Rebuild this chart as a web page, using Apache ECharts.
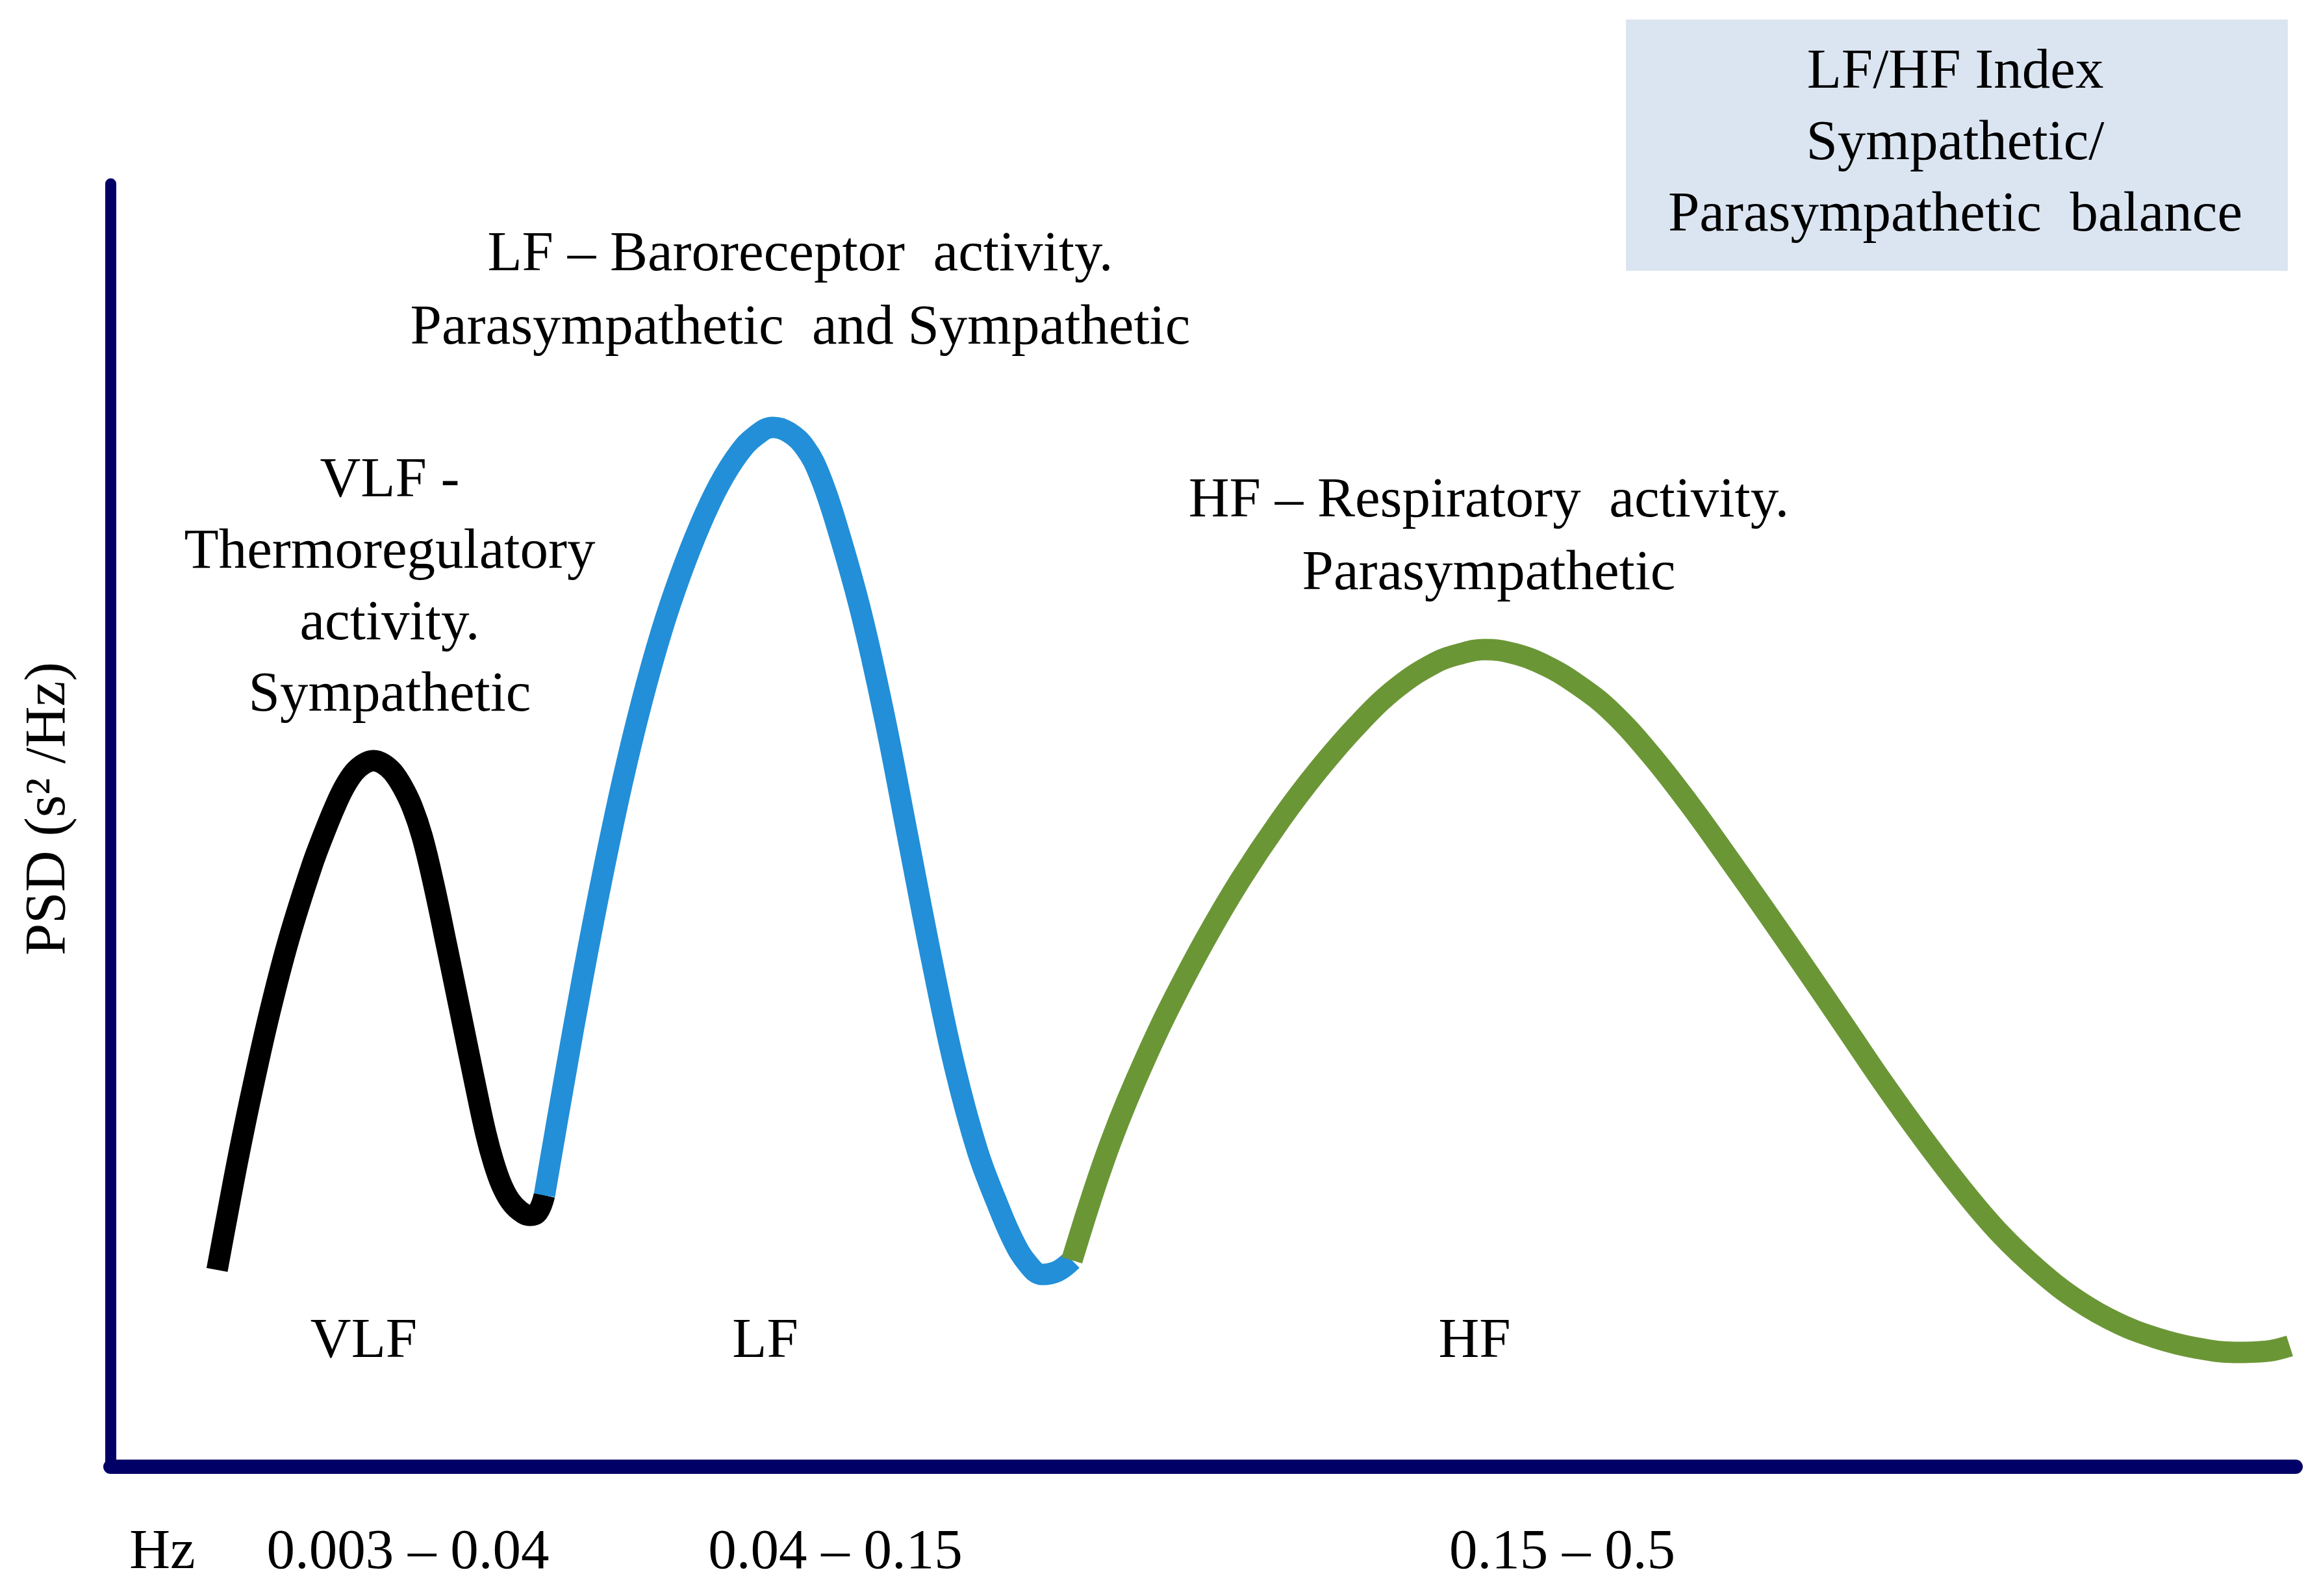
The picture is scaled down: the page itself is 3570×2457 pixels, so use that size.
<!DOCTYPE html>
<html><head><meta charset="utf-8">
<script src="https://cdn.jsdelivr.net/npm/echarts@6/dist/echarts.min.js"></script>
<style>html,body{margin:0;padding:0;background:#fff}#c{width:3570px;height:2457px}</style>
</head><body><div id="c"></div>
<script>
// Curve values (x: relative frequency position 0-100, y: relative PSD 0-100)
const vlfCurve = [[4.88,15.34],[5.35,19.65],[5.89,24.46],[6.54,29.77],[7.28,35.34],[8.17,41.16],[9.22,46.84],[9.81,49.52],[10.26,51.39],[10.70,52.96],[11.15,54.13],[11.59,54.78],[12.04,55.04],[12.49,54.78],[12.93,54.13],[13.38,52.96],[13.82,51.39],[14.27,49.11],[14.80,45.37],[15.40,40.51],[16.02,35.39],[16.71,29.67],[17.18,25.97],[17.54,23.70],[17.90,21.97],[18.28,20.76],[18.73,19.95],[19.20,19.59],[19.56,19.85],[19.86,21.16]];
const lfCurve = [[19.86,21.16],[20.75,29.92],[21.64,38.38],[22.53,46.18],[23.42,53.32],[24.32,59.65],[25.21,65.06],[26.10,69.57],[26.99,73.42],[27.88,76.61],[28.78,79.04],[29.52,80.35],[30.32,81.01],[31.06,80.61],[31.81,79.39],[32.46,77.27],[33.23,73.42],[34.33,66.73],[35.43,58.38],[36.50,49.01],[37.60,39.39],[38.64,31.14],[39.68,24.61],[40.55,20.66],[41.32,17.62],[41.97,15.85],[42.63,14.99],[43.34,15.24],[44.00,16.10]];
const hfCurve = [[44.00,16.10],[44.59,19.34],[45.18,22.43],[45.78,25.32],[46.52,28.51],[47.41,32.00],[48.45,35.75],[50.06,40.96],[51.72,45.77],[53.51,50.33],[55.29,54.33],[57.07,57.82],[58.86,60.71],[60.64,62.68],[61.83,63.39],[62.87,63.70],[64.21,63.39],[65.70,62.43],[67.18,60.91],[68.67,58.89],[70.45,55.59],[72.24,51.70],[74.02,47.49],[75.80,43.19],[77.59,38.78],[79.37,34.33],[81.15,29.87],[82.94,25.62],[84.72,21.67],[86.50,18.13],[88.29,15.24],[90.07,12.91],[91.86,11.19],[93.64,10.03],[95.42,9.27],[97.21,8.91],[98.69,9.01],[99.73,9.42]];

const bandLabels = ['VLF', 'LF', 'HF'];
const hzLabels = ['Hz', '0.003 \u2013 0.04', '0.04 \u2013 0.15', '0.15 \u2013 0.5'];
const vlfNote = ['VLF -', 'Thermoregulatory', 'activity.', 'Sympathetic'];
const lfNote = ['LF \u2013 Baroreceptor  activity.', 'Parasympathetic  and Sympathetic'];
const hfNote = ['HF \u2013 Respiratory  activity.', 'Parasympathetic'];
const indexNote = ['LF/HF Index', 'Sympathetic/', 'Parasympathetic  balance'];
const yName = 'PSD (s\u00B2 /Hz)';

const FONT = '"Liberation Serif","Times New Roman",serif';
const FS = 87;

function txt(text, x, y, opts) {
  return {
    type: 'text', x: x, y: y, silent: true, z: 10,
    style: Object.assign({
      text: text, fontFamily: FONT, fontSize: FS, fill: '#000',
      align: 'center', verticalAlign: 'middle', textAlign: 'center', textVerticalAlign: 'middle',
      lineHeight: 110
    }, opts || {})
  };
}

const chart = echarts.init(document.getElementById('c'), null, {renderer: 'canvas'});
const lineCommon = {type: 'line', smooth: 0.4, showSymbol: false, symbol: 'none', silent: true};
const LW = 33;

chart.setOption({
  animation: false,
  backgroundColor: '#ffffff',
  grid: {left: 170, top: 283, right: 36, bottom: 199, containLabel: false},
  xAxis: {
    type: 'value', min: 0, max: 100,
    axisLine: {show: true, onZero: false, lineStyle: {color: '#000066', width: 22}},
    axisTick: {show: false}, axisLabel: {show: false}, splitLine: {show: false}
  },
  yAxis: {
    type: 'value', min: 0, max: 100,
    axisLine: {show: true, onZero: false, lineStyle: {color: '#000066', width: 17}},
    axisTick: {show: false}, axisLabel: {show: false}, splitLine: {show: false}
  },
  series: [
    Object.assign({}, lineCommon, {name: 'VLF', data: vlfCurve, z: 3, lineStyle: {color: '#000000', width: LW, join: 'round'}}),
    Object.assign({}, lineCommon, {name: 'LF', data: lfCurve, z: 4, lineStyle: {color: '#228fd8', width: LW, join: 'round'}}),
    Object.assign({}, lineCommon, {name: 'HF', data: hfCurve, z: 5, lineStyle: {color: '#6b9636', width: LW, join: 'round'}})
  ],
  graphic: [
    {type: 'rect', silent: true, z: 1, shape: {x: 2503, y: 30, width: 1019, height: 387}, style: {fill: '#dbe5f1'}},
    txt(indexNote.join('\n'), 3010, 222, {lineHeight: 110}),
    txt(lfNote.join('\n'), 1232, 450, {lineHeight: 113}),
    txt(vlfNote.join('\n'), 600, 906, {lineHeight: 110}),
    txt(hfNote.join('\n'), 2292, 828, {lineHeight: 112}),
    txt(bandLabels[0], 560, 2066),
    txt(bandLabels[1], 1178, 2066),
    txt(bandLabels[2], 2270, 2066),
    txt(hzLabels[0], 250, 2391),
    txt(hzLabels[1], 628, 2391),
    txt(hzLabels[2], 1286, 2391),
    txt(hzLabels[3], 2405, 2391),
    Object.assign(txt(yName, 76, 1245, {fontSize: 88}), {rotation: Math.PI / 2})
  ]
});
</script></body></html>
